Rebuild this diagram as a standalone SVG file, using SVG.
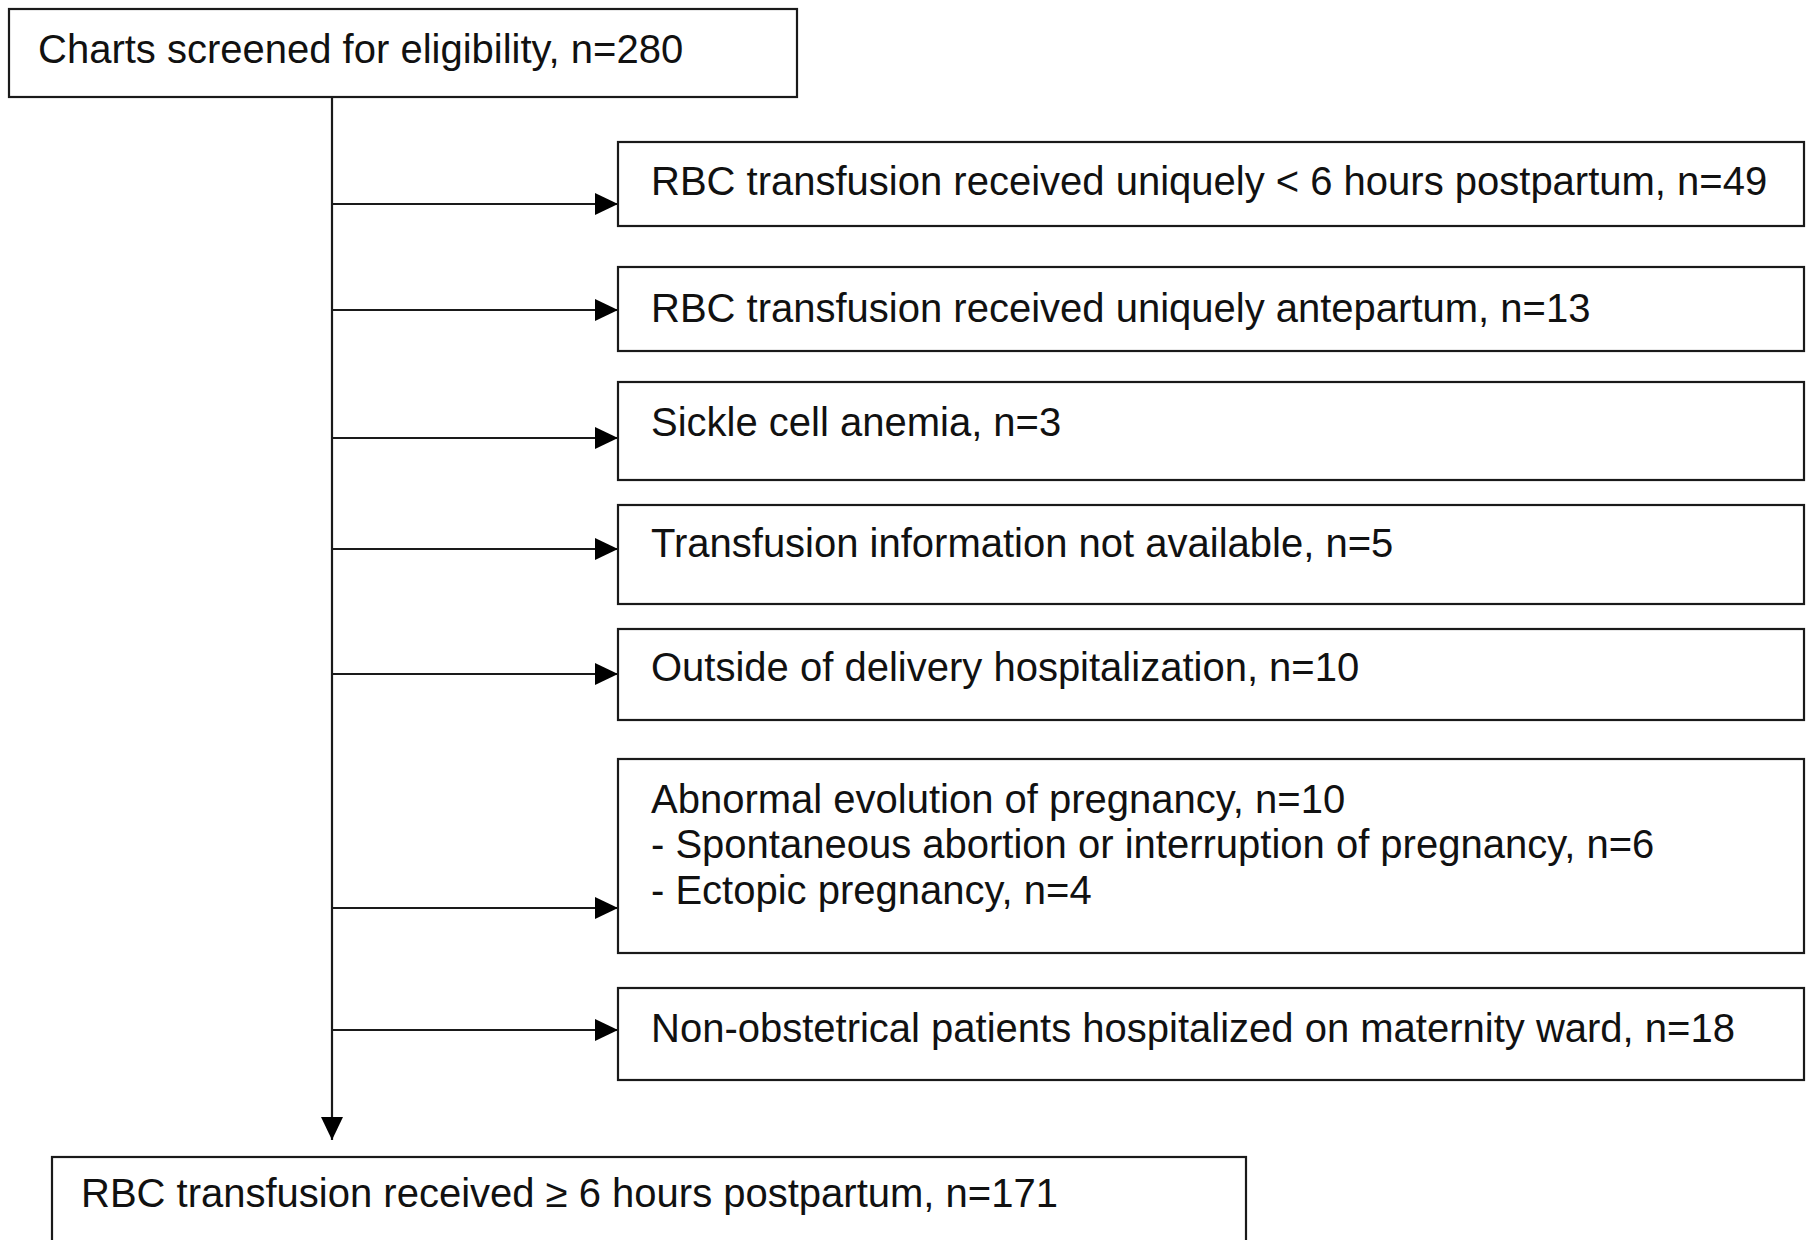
<svg xmlns="http://www.w3.org/2000/svg" width="1806" height="1240" viewBox="0 0 1806 1240">
<style>
.box{fill:#fff;stroke:#1a1a1a;stroke-width:2.2}
.t{font-family:"Liberation Sans",Arial,sans-serif;font-size:40px;fill:#111}
.c{stroke:#1a1a1a;stroke-width:2.2;fill:none}
</style>
<defs>
<marker id="ah" markerUnits="userSpaceOnUse" markerWidth="24" markerHeight="24" viewBox="0 0 24 24" refX="23" refY="12" orient="auto">
<path d="M0,1 L23,12 L0,23 Z" fill="#000"/>
</marker>
</defs>
<rect width="1806" height="1240" fill="#fff"/>
<g id="connectors">
<line class="c" x1="332" y1="97" x2="332" y2="1140" marker-end="url(#ah)"/>
<line class="c" x1="332" y1="204" x2="618" y2="204" marker-end="url(#ah)"/>
<line class="c" x1="332" y1="310" x2="618" y2="310" marker-end="url(#ah)"/>
<line class="c" x1="332" y1="438" x2="618" y2="438" marker-end="url(#ah)"/>
<line class="c" x1="332" y1="549" x2="618" y2="549" marker-end="url(#ah)"/>
<line class="c" x1="332" y1="674" x2="618" y2="674" marker-end="url(#ah)"/>
<line class="c" x1="332" y1="908" x2="618" y2="908" marker-end="url(#ah)"/>
<line class="c" x1="332" y1="1030" x2="618" y2="1030" marker-end="url(#ah)"/>
</g>
<g id="screened">
<rect class="box" x="9" y="9" width="788" height="88"/>
<text class="t" x="38" y="63">Charts screened for eligibility, n=280</text>
</g>
<g id="excl1">
<rect class="box" x="618" y="142" width="1186" height="84"/>
<text class="t" x="651" y="195">RBC transfusion received uniquely &lt; 6 hours postpartum, n=49</text>
</g>
<g id="excl2">
<rect class="box" x="618" y="267" width="1186" height="84"/>
<text class="t" x="651" y="322">RBC transfusion received uniquely antepartum, n=13</text>
</g>
<g id="excl3">
<rect class="box" x="618" y="382" width="1186" height="98"/>
<text class="t" x="651" y="436">Sickle cell anemia, n=3</text>
</g>
<g id="excl4">
<rect class="box" x="618" y="505" width="1186" height="99"/>
<text class="t" x="651" y="557">Transfusion information not available, n=5</text>
</g>
<g id="excl5">
<rect class="box" x="618" y="629" width="1186" height="91"/>
<text class="t" x="651" y="681">Outside of delivery hospitalization, n=10</text>
</g>
<g id="excl6">
<rect class="box" x="618" y="759" width="1186" height="194"/>
<text class="t" x="651" y="813">Abnormal evolution of pregnancy, n=10</text>
<text class="t" x="651" y="858">- Spontaneous abortion or interruption of pregnancy, n=6</text>
<text class="t" x="651" y="904">- Ectopic pregnancy, n=4</text>
</g>
<g id="excl7">
<rect class="box" x="618" y="988" width="1186" height="92"/>
<text class="t" x="651" y="1042">Non-obstetrical patients hospitalized on maternity ward, n=18</text>
</g>
<g id="included">
<rect class="box" x="52" y="1157" width="1194" height="90"/>
<text class="t" x="81" y="1207">RBC transfusion received ≥ 6 hours postpartum, n=171</text>
</g>
</svg>
